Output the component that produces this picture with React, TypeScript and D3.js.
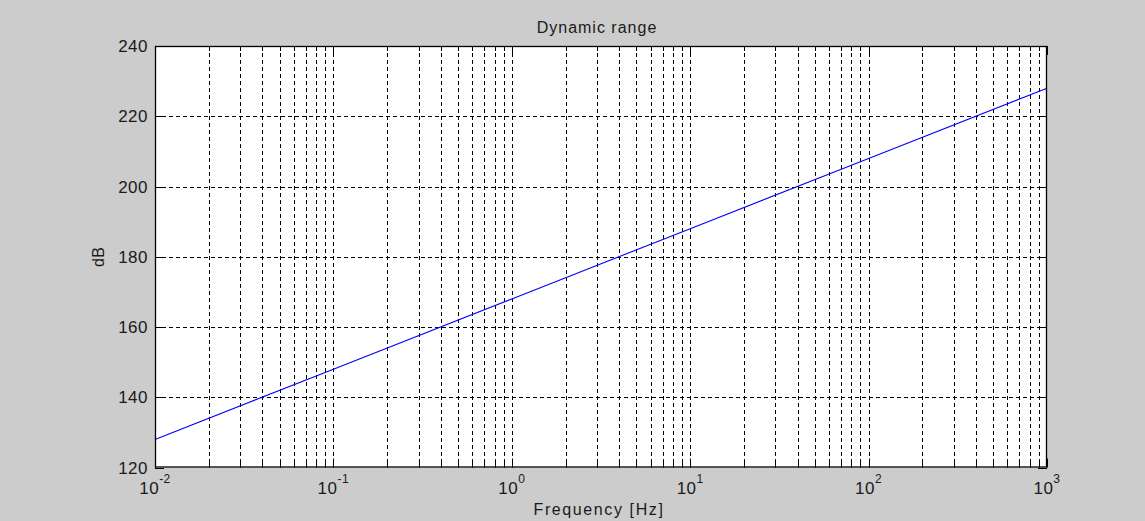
import { useEffect, useRef } from "react";
import * as d3 from "d3";

// values
const freqs = [0.01, 0.1, 1, 10, 100, 1000];
const levels = [128, 148, 168, 188, 208, 228];
const yTicks = [120, 140, 160, 180, 200, 220, 240];
const decades = [-2, -1, 0, 1, 2, 3];

const App = () => {
  const ref = useRef<SVGSVGElement>(null);

  useEffect(() => {
    const width = 1145;
    const height = 521;
    const left = 155;
    const right = 1047;
    const top = 46;
    const bottom = 467.5;
    const font = "Arial, 'Liberation Sans', sans-serif";

    const svg = d3.select(ref.current);
    svg.selectAll("*").remove();

    svg.append("rect").attr("width", width).attr("height", height).attr("fill", "#cccccc");

    const x = d3.scaleLog().domain([0.01, 1000]).range([left, right]);
    const y = d3.scaleLinear().domain([120, 240]).range([bottom, top]);

    svg
      .append("rect")
      .attr("x", left)
      .attr("y", top)
      .attr("width", right - left)
      .attr("height", bottom - top)
      .attr("fill", "#ffffff");

    // vertical grid, majors + minors
    const xGrid: number[] = [];
    decades.forEach((d) => {
      for (let m = 1; m <= 9; m++) {
        const v = m * Math.pow(10, d);
        if (v >= 0.01 && v <= 1000) xGrid.push(v);
      }
    });

    const grid = svg.append("g").attr("stroke", "#000").attr("stroke-width", 1).attr("stroke-dasharray", "4,3");
    xGrid
      .filter((v) => v > 0.01 && v < 1000)
      .forEach((v) => {
        const px = Math.round(x(v)) + 0.5;
        grid.append("line").attr("x1", px).attr("x2", px).attr("y1", top).attr("y2", bottom);
      });
    yTicks
      .filter((v) => v > 120 && v < 240)
      .forEach((v) => {
        const py = Math.round(y(v)) + 0.5;
        grid.append("line").attr("x1", left).attr("x2", right).attr("y1", py).attr("y2", py);
      });

    // ticks (inward, on all four sides)
    const ticks = svg.append("g").attr("stroke", "#000").attr("stroke-width", 1);
    xGrid.forEach((v) => {
      const px = Math.round(x(v)) + 0.5;
      const lg = Math.log10(v);
      const major = Math.abs(lg - Math.round(lg)) < 1e-9;
      const len = major ? 9 : 5;
      ticks.append("line").attr("x1", px).attr("x2", px).attr("y1", bottom).attr("y2", bottom - len);
      ticks.append("line").attr("x1", px).attr("x2", px).attr("y1", top).attr("y2", top + len);
    });
    yTicks.forEach((v) => {
      const py = Math.round(y(v)) + 0.5;
      ticks.append("line").attr("x1", left).attr("x2", left + 9).attr("y1", py).attr("y2", py);
      ticks.append("line").attr("x1", right).attr("x2", right - 9).attr("y1", py).attr("y2", py);
    });

    // the curve
    const line = d3
      .line<number>()
      .x((_, i) => x(freqs[i]))
      .y((d) => y(d));
    svg
      .append("path")
      .datum(levels)
      .attr("d", line)
      .attr("fill", "none")
      .attr("stroke", "#0000ff")
      .attr("stroke-width", 1.1);

    // box
    svg
      .append("rect")
      .attr("x", left + 0.5)
      .attr("y", top + 0.5)
      .attr("width", right - left - 1)
      .attr("height", bottom - top - 1)
      .attr("fill", "none")
      .attr("stroke", "#000")
      .attr("stroke-width", 1.3);

    // y labels
    svg
      .append("g")
      .selectAll("text")
      .data(yTicks)
      .enter()
      .append("text")
      .attr("x", left - 7)
      .attr("y", (d) => y(d))
      .attr("dy", "0.36em")
      .attr("text-anchor", "end")
      .style("font-family", font)
      .style("font-size", "17px")
      .style("letter-spacing", "0.5px")
      .style("fill", "#1a1a1a")
      .text((d) => d);

    // x labels: 10^n
    decades.forEach((d) => {
      const t = svg
        .append("text")
        .attr("x", x(Math.pow(10, d)))
        .attr("y", 494)
        .attr("text-anchor", "middle")
        .style("font-family", font)
        .style("font-size", "17px")
        .style("letter-spacing", "0.5px")
        .style("fill", "#1a1a1a");
      t.append("tspan").text("10");
      t.append("tspan").attr("dy", -11).style("font-size", "12px").text(`${d}`);
    });

    svg
      .append("text")
      .attr("x", (left + right) / 2 - 2)
      .attr("y", 515)
      .attr("text-anchor", "middle")
      .style("font-family", font)
      .style("font-size", "16px")
      .style("letter-spacing", "1.6px")
      .style("fill", "#1a1a1a")
      .text("Frequency [Hz]");

    svg
      .append("text")
      .attr("transform", `translate(104, ${(top + bottom) / 2}) rotate(-90)`)
      .attr("text-anchor", "middle")
      .style("font-family", font)
      .style("font-size", "16px")
      .style("letter-spacing", "0.5px")
      .style("fill", "#1a1a1a")
      .text("dB");

    svg
      .append("text")
      .attr("x", (left + right) / 2 - 4)
      .attr("y", 33)
      .attr("text-anchor", "middle")
      .style("font-family", font)
      .style("font-size", "16px")
      .style("letter-spacing", "1px")
      .style("fill", "#1a1a1a")
      .text("Dynamic range");
  }, []);

  return (
    <svg
      ref={ref}
      width={1145}
      height={521}
      viewBox="0 0 1145 521"
      style={{ position: "absolute", left: 0, top: 0, display: "block" }}
    ></svg>
  );
};

export default App;
